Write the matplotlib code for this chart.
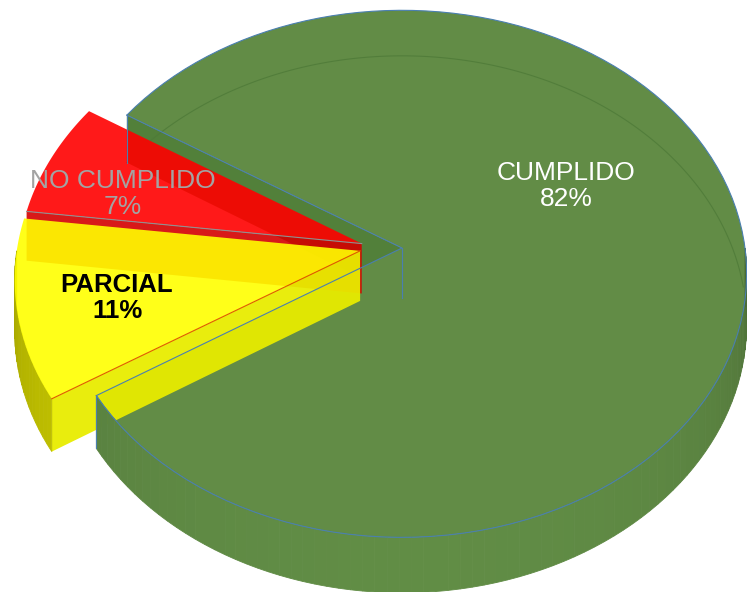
import numpy as np
import matplotlib.pyplot as plt
from matplotlib.patches import Polygon

plt.rcParams['font.family'] = ['Liberation Sans', 'DejaVu Sans']

# data
labels = ["CUMPLIDO", "NO CUMPLIDO", "PARCIAL"]
values = [82, 7, 11]
pct_text = ["82%", "7%", "11%"]
explode = [0.0, 0.125, 0.125]
top_colors = ["#628c46", "#ff0000", "#ffff00"]
side_colors = ["#5f8a44", "#c80000", "#c8c800"]
face_colors = ["#52803a", "#d40000", "#e8ec00"]
start_angle = 212.4

# layout of the tilted pie (pixels)
CX, CY = 402, 248
RX, RY = 343, 261
P = 0.098      # perspective
H = 50         # thickness
EXPLODE_TILT = 0.4


def proj(u, v, z=0.0):
    w = 1 + P * v
    return CX + RX * u / w, CY - RY * v / w + z * H / w


def rim(a0, a1, ox, oy, z=0.0, n=120):
    t = np.radians(np.linspace(a0, a1, n))
    x, y = proj(ox + np.cos(t), oy + np.sin(t), z)
    return np.column_stack([x, y])


def apex(ox, oy, z=0.0):
    return np.array([proj(ox, oy, z)])


def radial_face(a, ox, oy):
    t = np.radians(a)
    p1 = proj(ox, oy, 0)
    p2 = proj(ox + np.cos(t), oy + np.sin(t), 0)
    p3 = proj(ox + np.cos(t), oy + np.sin(t), 1)
    p4 = proj(ox, oy, 1)
    return np.array([p1, p2, p3, p4])


def shade(c, f):
    r, g, b = [int(c[i:i + 2], 16) / 255 for i in (1, 3, 5)]
    return (min(r * f, 1), min(g * f, 1), min(b * f, 1))


def wall(ax, a0, a1, ox, oy, color, n=60, zorder=2):
    # outer wall only where it faces the viewer (180..360)
    lo, hi = max(a0, 180), min(a1, 360)
    if hi <= lo:
        return
    edges = np.linspace(lo, hi, n + 1)
    for s0, s1 in zip(edges[:-1], edges[1:]):
        top = rim(s0, s1, ox, oy, 0, 4)
        bot = rim(s1, s0, ox, oy, 1, 4)
        m = np.radians((s0 + s1) / 2)
        f = 0.74 + 0.28 * np.sqrt(max(-np.sin(m), 0))
        c = shade(color, f)
        ax.add_patch(Polygon(np.vstack([top, bot]), closed=True, fc=c, ec=c,
                             lw=0.6, zorder=zorder))


fig = plt.figure(figsize=(7.47, 5.92), dpi=100)
ax = fig.add_axes([0, 0, 1, 1])
ax.set_xlim(0, 747)
ax.set_ylim(592, 0)
ax.axis('off')

total = sum(values)
angles = []
a = start_angle
for v in values:
    span = 360 * v / total
    a0 = a % 360
    angles.append((a0, a0 + span))
    a += span

offs = []
for (a0, a1), e in zip(angles, explode):
    mid = np.radians((a0 + a1) / 2)
    offs.append((e * np.cos(mid), e * EXPLODE_TILT * np.sin(mid)))

# --- CUMPLIDO (green), drawn first
g0, g1 = angles[0]
gx, gy = offs[0]
ax.add_patch(Polygon(radial_face(g1, gx, gy), closed=True, fc=face_colors[0],
                     ec='none', zorder=1))
ax.add_patch(Polygon(np.vstack([apex(gx, gy), rim(g0, g1, gx, gy)]), closed=True,
                     fc=top_colors[0], ec='none', zorder=1.5))
# faint back edge of the bottom seen through
ax.plot(*rim(g0 + 150, g1, gx, gy, 1).T, color='#4e7a38', lw=0.8, alpha=0.8, zorder=1.6)

# --- NO CUMPLIDO (red)
r0, r1 = angles[1]
rx_, ry_ = offs[1]
ax.add_patch(Polygon(radial_face(r1, rx_, ry_), closed=True, fc=face_colors[1],
                     ec='none', alpha=0.9, zorder=3))
ax.add_patch(Polygon(np.vstack([apex(rx_, ry_), rim(r0, r1, rx_, ry_)]), closed=True,
                     fc=top_colors[1], ec='none', alpha=0.9, zorder=3.5))

# --- PARCIAL (yellow)
y0, y1 = angles[2]
yx, yy = offs[2]
ax.add_patch(Polygon(radial_face(y1, yx, yy), closed=True, fc=face_colors[2],
                     ec='none', alpha=0.95, zorder=4))
wall(ax, y0, y1, yx, yy, side_colors[2], n=20, zorder=4.2)
ax.add_patch(Polygon(np.vstack([apex(yx, yy), rim(y0, y1, yx, yy)]), closed=True,
                     fc=top_colors[2], ec='none', alpha=0.9, zorder=4.5))
ax.plot(*np.vstack([rim(r1, r1, rx_, ry_, 0, 1), apex(rx_, ry_)]).T,
        color='#909090', lw=0.8, zorder=4.6)
ax.plot(*np.vstack([rim(y1, y1, yx, yy, 0, 1), apex(yx, yy)]).T,
        color='#e05a00', lw=0.8, zorder=4.6)

# green front wall over the yellow face
wall(ax, g0, g1, gx, gy, side_colors[0], n=80, zorder=5)

# thin blue edges of the green slice
edge_c = '#4a7fb0'
ax.plot(*np.vstack([rim(g1, g1, gx, gy, 0, 1), apex(gx, gy), rim(g0, g0, gx, gy, 0, 1)]).T,
        color=edge_c, lw=0.8, zorder=6)
ax.plot(*rim(g0, g1, gx, gy).T, color=edge_c, lw=0.8, zorder=6)
ax.plot(*np.vstack([apex(gx, gy), apex(gx, gy, 1)]).T, color=edge_c, lw=0.8, zorder=6)
for a_ in (g0, g1):
    ax.plot(*np.vstack([rim(a_, a_, gx, gy, 0, 1), rim(a_, a_, gx, gy, 1, 1)]).T,
            color=edge_c, lw=0.8, zorder=6)

# labels
ax.text(566, 186, labels[0] + "\n" + pct_text[0], color='white', fontsize=19,
        ha='center', va='center', linespacing=1.15, zorder=10)
ax.text(123, 194, labels[1] + "\n" + pct_text[1], color='#a3a3a3', fontsize=19,
        ha='center', va='center', linespacing=1.15, zorder=10)
ax.text(117, 298, labels[2] + "\n" + pct_text[2], color='black', fontsize=18.5,
        fontweight='bold', ha='center', va='center', linespacing=1.15, zorder=10)

fig.savefig('out.png', dpi=100)
